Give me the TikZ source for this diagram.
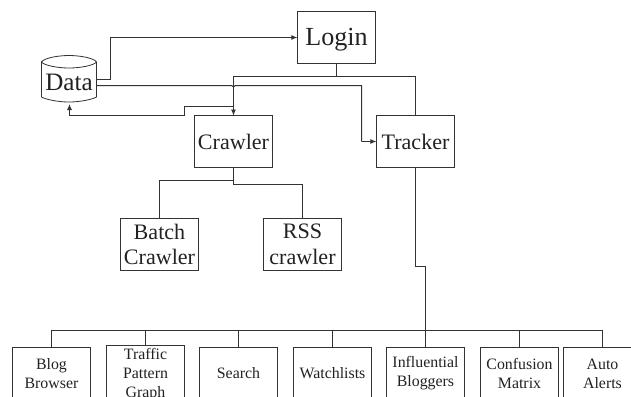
\documentclass[tikz,border=0pt]{standalone}
\usepackage{fontspec}
\setmainfont{Liberation Serif}
\usetikzlibrary{arrows.meta}
\definecolor{ink}{HTML}{222222}
\definecolor{edge}{HTML}{333333}
\tikzset{
  box/.style={draw=edge,line width=1pt,minimum width=78pt,outer sep=0pt,inner sep=0pt,align=center,text=ink},
  topbox/.style={box,minimum height=51.5pt,font=\fontsize{22}{25.5}\selectfont},
  lowbox/.style={box,minimum height=52pt,font=\fontsize{15.8}{19}\selectfont},
  wire/.style={draw=edge,line width=1pt},
  arr/.style={wire,-{Latex[length=6pt,width=5pt]}},
}
\begin{document}
\begin{tikzpicture}[x=0.99626pt,y=-0.99626pt]
\path[use as bounding box] (0,0) rectangle (631,396);
\clip (0,0) rectangle (631,396);
\fill[white] (0,0) rectangle (631,396);
% nodes
\node[box,minimum height=51.5pt,font=\fontsize{26}{30}\selectfont] (login) at (336.5,37.5) {\rule{0pt}{22pt}Login};
\node[topbox] (crawler) at (233.5,141.5) {Crawler};
\node[topbox] (tracker) at (415.5,141.5) {Tracker};
\node[topbox] (batch) at (159.5,244.5) {Batch\\Crawler};
\node[topbox] (rss) at (302.5,244.5) {RSS\\crawler};
\node[lowbox] (blog) at (51.5,373.5) {Blog\\Browser};
\node[lowbox] (traffic) at (145.5,373.5) {\rule{0pt}{14pt}Traffic\\Pattern\\Graph};
\node[lowbox] (search) at (238.5,373.5) {Search};
\node[lowbox] (watch) at (332.5,373.5) {Watchlists};
\node[lowbox] (infl) at (425.5,373.5) {Influential\\Bloggers};
\node[lowbox] (conf) at (519.5,373.5) {Confusion\\Matrix};
\node[lowbox] (auto) at (602.5,373.5) {Auto\\Alerts};
% database
\node[minimum width=54.6pt,minimum height=47pt,inner sep=0pt,text=ink,font=\fontsize{25}{28}\selectfont] (data) at (69,82) {Data};
\draw[wire,line width=0.8pt] (41.5,62) .. controls (44,58) and (58,55.5) .. (69,55.5) .. controls (80,55.5) and (94,58) .. (96.5,62)
  .. controls (94,65.5) and (80,68) .. (69,68) .. controls (58,68) and (44,65.5) .. (41.5,62)
  -- (41.5,97) .. controls (46,99.5) and (58,102) .. (69,102) .. controls (80,102) and (92,99.5) .. (96.5,97) -- (96.5,62);
% connectors
\coordinate (dhi) at (96.5,79.5);
\coordinate (dlo) at (96.5,85.5);
\draw[arr] (dhi) -- (110.5,79.5) -- (110.5,37.5) -- (login.west);
\draw[wire] (dlo) -- (231.5,85.5) .. controls (232.8,87.3) and (234.2,87.3) .. (235.5,85.5) -- (361.5,85.5) -- (361.5,141.5);
\draw[arr] (361.5,141.5) -- (tracker.west);
\coordinate (lj) at (336.5,76.5);
\draw[wire] (login.south) -- (lj);
\draw[wire] (lj) -- (tracker.north |- lj) -- (tracker.north);
\draw[arr] (lj) -- (crawler.north |- lj) -- (crawler.north);
\coordinate (back) at (233.5,106.5);
\draw[arr] (back) -- (184.5,106.5) -- (184.5,115.5) -- (69.5,115.5) -- (69.5,104);
\coordinate (cj) at (233.5,180.5);
\coordinate (ck) at (233.5,184.5);
\draw[wire] (crawler.south) -- (ck);
\draw[wire] (cj) -- (batch.north |- cj) -- (batch.north);
\draw[wire] (ck) -- (rss.north |- ck) -- (rss.north);
\coordinate (bus) at (425.5,330.5);
\draw[wire] (tracker.south) -- (415.5,266.5) -- (425.5,266.5) -- (infl.north);
\draw[wire] (blog.north) -- (blog.north |- bus) -- (auto.north |- bus) -- (auto.north);
\foreach \n in {traffic,search,watch,conf}{
  \draw[wire] (\n.north) -- (\n.north |- bus);
}
\end{tikzpicture}
\end{document}
